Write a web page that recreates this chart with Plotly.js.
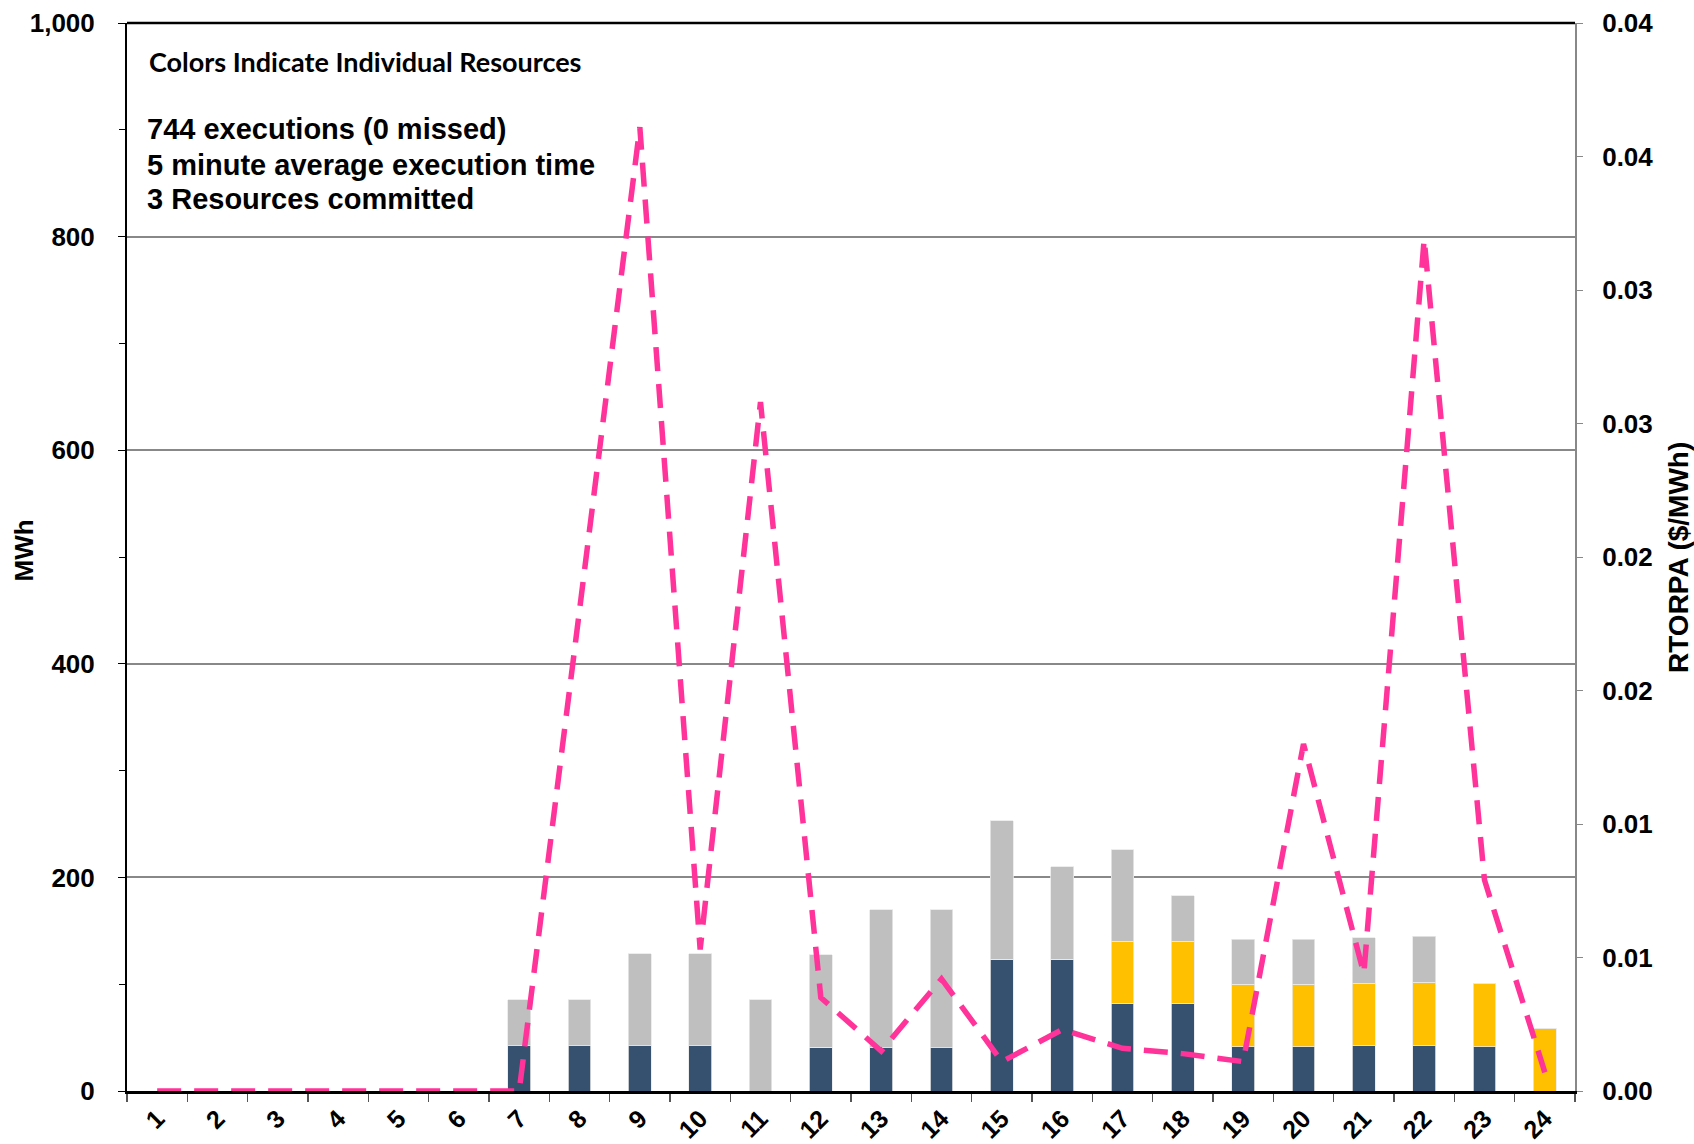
<!DOCTYPE html>
<html>
<head>
<meta charset="utf-8">
<script src="https://cdn.plot.ly/plotly-3.0.1.min.js"></script>
<style>
  html, body { margin: 0; padding: 0; background: #fff; }
  #chart { width: 1694px; height: 1144px; }
</style>
</head>
<body>
<div id="chart"></div>
<script>
// ---- data ----
const hours = ['1','2','3','4','5','6','7','8','9','10','11','12','13','14','15','16','17','18','19','20','21','22','23','24'];
const resourceA = [0,0,0,0,0,0,42.4,42.4,42.4,42.4,0,41.2,40.5,40.5,123.6,123.6,82,82,41.5,41.5,42.4,42.4,41.5,0];
const resourceB = [0,0,0,0,0,0,0,0,0,0,0,0,0,0,0,0,58,58,58.5,58.5,58.6,59.4,59.5,58.7];
const resourceC = [0,0,0,0,0,0,43.2,43.2,86.2,86.2,85.6,86.4,129,129,129.6,86.4,85.7,42.6,42,42,42.5,43.2,0,0];
const rtorpa = [0,0,0,0,0,0,0,0.018,0.0361,0.0053,0.0258,0.0035,0.0015,0.0042,0.0011,0.0023,0.0016,0.0014,0.0011,0.0130,0.0044,0.0319,0.0079,0.0007];
const rightTickVals = [0,0.005,0.01,0.015,0.02,0.025,0.03,0.035,0.04];
const rightTickText = ['0.00','0.01','0.01','0.02','0.02','0.03','0.03','0.04','0.04'];
const notes = ['744 executions (0 missed)','5 minute average execution time','3 Resources committed'];

const FONT = 'Liberation Sans, Arial, sans-serif';

const traces = [
  {type:'bar', x:hours, y:resourceA, marker:{color:'#36506F', line:{color:'#e8e8e8', width:0.8}}, showlegend:false, hoverinfo:'y'},
  {type:'bar', x:hours, y:resourceB, marker:{color:'#FFC000', line:{color:'#e8e8e8', width:0.8}}, showlegend:false, hoverinfo:'y'},
  {type:'bar', x:hours, y:resourceC, marker:{color:'#BFBFBF', line:{color:'#e8e8e8', width:0.8}}, showlegend:false, hoverinfo:'y'},
  {type:'scatter', mode:'lines', x:hours, y:rtorpa, yaxis:'y2',
   line:{color:'#FF3399', width:5.5, dash:'24px,13px'}, showlegend:false}
];

const annotations = [
  {xref:'paper', yref:'paper', x:0.0135, y:0.964, xanchor:'left', yanchor:'middle', showarrow:false,
   text:'Colors Indicate Individual Resources', font:{family:'Lato, Liberation Sans, sans-serif', size:27, weight:'bold', color:'#000'}},
  {xref:'paper', yref:'paper', x:0.0127, y:0.901, xanchor:'left', yanchor:'middle', showarrow:false,
   text:notes[0], font:{family:FONT, size:29, weight:'bold', color:'#000'}},
  {xref:'paper', yref:'paper', x:0.0127, y:0.867, xanchor:'left', yanchor:'middle', showarrow:false,
   text:notes[1], font:{family:FONT, size:29, weight:'bold', color:'#000'}},
  {xref:'paper', yref:'paper', x:0.0127, y:0.835, xanchor:'left', yanchor:'middle', showarrow:false,
   text:notes[2], font:{family:FONT, size:29, weight:'bold', color:'#000'}},
  {xref:'paper', yref:'paper', x:-0.0712, y:0.506, xanchor:'center', yanchor:'middle', showarrow:false, textangle:-90,
   text:'MWh', font:{family:FONT, size:26, weight:'bold', color:'#000'}},
  {xref:'paper', yref:'paper', x:1.0711, y:0.5, xanchor:'center', yanchor:'middle', showarrow:false, textangle:-90,
   text:'RTORPA ($/MWh)', font:{family:FONT, size:28, weight:'bold', color:'#000'}}
];

const layout = {
  width:1694, height:1144,
  margin:{l:127, r:119, t:23, b:53},
  paper_bgcolor:'#fff', plot_bgcolor:'#fff',
  barmode:'stack', bargap:0.62,
  showlegend:false,
  font:{family:FONT, color:'#000'},
  xaxis:{
    type:'category', tickson:'boundaries', ticks:'outside', ticklen:8, tickwidth:1.5, tickcolor:'#555',
    showline:true, linecolor:'#000', linewidth:3, showgrid:false, zeroline:false,
    tickangle:-45, tickfont:{family:FONT, size:25, weight:'bold', color:'#000'}
  },
  yaxis:{
    range:[0,1000], dtick:200, tickformat:',d', ticks:'outside', ticklen:7, tickcolor:'#000',
    showline:true, linecolor:'#000', linewidth:2, showgrid:true, gridcolor:'#888', gridwidth:2, zeroline:false,
    minor:{dtick:100, ticks:'outside', ticklen:6, tickcolor:'#000', showgrid:false},
    ticklabelstandoff:18,
    tickfont:{family:FONT, size:26, weight:'bold', color:'#000'}
  },
  yaxis2:{
    overlaying:'y', side:'right', range:[0,0.04],
    tickmode:'array', tickvals:rightTickVals, ticktext:rightTickText,
    ticks:'outside', ticklen:6, tickcolor:'#888',
    showline:true, linecolor:'#888', linewidth:2, showgrid:false, zeroline:false,
    ticklabelstandoff:14,
    tickfont:{family:FONT, size:26, weight:'bold', color:'#000'}
  },
  shapes:[
    {type:'line', xref:'paper', yref:'paper', x0:0, x1:1, y0:1, y1:1, line:{color:'#000', width:2.5}}
  ],
  annotations:annotations
};

Plotly.newPlot('chart', traces, layout, {displayModeBar:false, staticPlot:true});
</script>
</body>
</html>
